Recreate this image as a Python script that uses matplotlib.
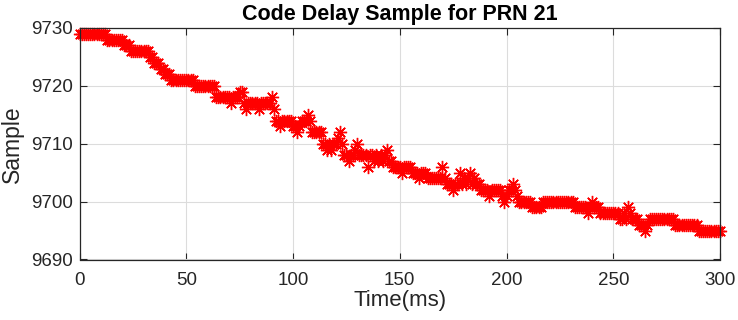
import numpy as np
import matplotlib
matplotlib.use("Agg")
import matplotlib.pyplot as plt

plt.rcParams['font.family'] = ['Liberation Sans', 'DejaVu Sans']

# Code delay (samples), one value per ms starting at t = 0
delay_samples = [
    9729, 9729, 9729, 9729, 9729, 9729, 9729, 9729, 9729, 9729,
    9729, 9729, 9729, 9728, 9728, 9728, 9728, 9728, 9728, 9728,
    9728, 9727, 9727, 9727, 9726, 9726, 9726, 9726, 9726, 9726,
    9726, 9726, 9726, 9725, 9725, 9724, 9724, 9724, 9723, 9723,
    9722, 9722, 9722, 9721, 9721, 9721, 9721, 9721, 9721, 9721,
    9721, 9721, 9721, 9721, 9720, 9720, 9720, 9720, 9720, 9720,
    9720, 9720, 9720, 9720, 9718, 9718, 9718, 9718, 9718, 9718,
    9718, 9717, 9718, 9718, 9718, 9719, 9719, 9717, 9716, 9717,
    9717, 9717, 9717, 9717, 9716, 9717, 9717, 9717, 9717, 9717,
    9718, 9716, 9714, 9714, 9713, 9714, 9714, 9714, 9714, 9714,
    9713, 9713, 9712, 9713, 9714, 9714, 9714, 9715, 9714, 9712,
    9712, 9712, 9712, 9712, 9710, 9710, 9709, 9710, 9709, 9710,
    9710, 9711, 9712, 9710, 9708, 9708, 9707, 9708, 9708, 9709,
    9710, 9708, 9708, 9708, 9708, 9706, 9708, 9708, 9707, 9708,
    9707, 9708, 9707, 9708, 9709, 9707, 9707, 9706, 9706, 9706,
    9706, 9705, 9706, 9706, 9706, 9706, 9705, 9705, 9705, 9704,
    9705, 9705, 9705, 9704, 9704, 9704, 9704, 9704, 9704, 9704,
    9706, 9704, 9703, 9703, 9703, 9702, 9703, 9703, 9705, 9703,
    9704, 9703, 9704, 9705, 9703, 9704, 9703, 9703, 9702, 9702,
    9702, 9702, 9701, 9702, 9702, 9702, 9702, 9702, 9701, 9700,
    9701, 9702, 9702, 9703, 9702, 9701, 9700, 9700, 9700, 9700,
    9700, 9700, 9699, 9699, 9699, 9699, 9699, 9700, 9700, 9700,
    9700, 9700, 9700, 9700, 9700, 9700, 9700, 9700, 9700, 9700,
    9700, 9700, 9699, 9699, 9699, 9699, 9699, 9699, 9698, 9699,
    9700, 9699, 9699, 9699, 9698, 9698, 9698, 9698, 9698, 9698,
    9698, 9698, 9698, 9697, 9697, 9698, 9697, 9699, 9698, 9697,
    9697, 9697, 9696, 9696, 9696, 9695, 9696, 9697, 9697, 9697,
    9697, 9697, 9697, 9697, 9697, 9697, 9697, 9697, 9697, 9696,
    9696, 9696, 9696, 9696, 9696, 9696, 9696, 9696, 9696, 9696,
    9695, 9695, 9695, 9695, 9695, 9695, 9695, 9695, 9695, 9695,
    9695,
]
time_ms = list(range(len(delay_samples)))

x_ticks = [0, 50, 100, 150, 200, 250, 300]
y_ticks = [9690, 9700, 9710, 9720, 9730]

fig = plt.figure(figsize=(7.38, 3.20), dpi=100)
top_px, bot_px, left_px, right_px = 28, 259.5, 79.5, 720
ax = fig.add_axes([left_px / 738, 1 - bot_px / 320,
                   (right_px - left_px) / 738, (bot_px - top_px) / 320])

ax.plot(time_ms, delay_samples, linestyle='none', marker=(8, 2, 0),
        markersize=9.5, markeredgewidth=1.0, color='#ff0000', clip_on=False)

ax.set_xlim(0, 300)
ax.set_ylim(9690, 9730)
ax.set_xticks(x_ticks)
ax.set_yticks(y_ticks)
ax.grid(True, color='#dcdcdc', linewidth=0.8)
ax.set_axisbelow(True)

dark = '#262626'
for s in ax.spines.values():
    s.set_color(dark)
    s.set_linewidth(0.9)
ax.tick_params(direction='in', length=5, width=0.8, colors=dark,
               labelsize=13.5, top=True, right=True)
ax.tick_params(axis='x', pad=9)
ax.tick_params(axis='y', pad=5)

ax.set_xlabel('Time(ms)', fontsize=16, color=dark, labelpad=1)
ax.set_ylabel('Sample', fontsize=16.5, color=dark, labelpad=5)
ax.set_title('Code Delay Sample for PRN 21', fontsize=15.5, fontweight='bold',
             color='black', pad=6)

fig.savefig('out.png', dpi=100)
